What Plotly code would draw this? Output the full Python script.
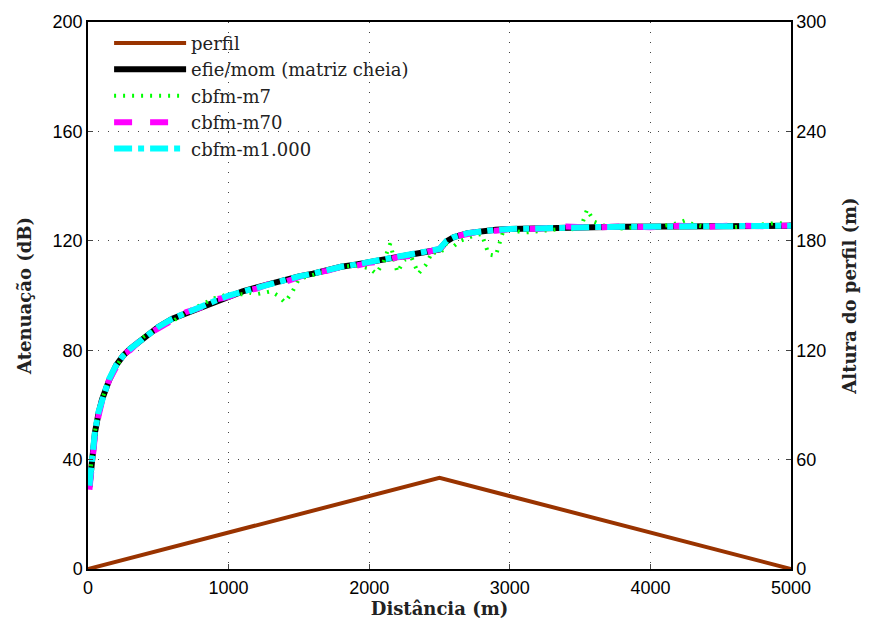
import plotly.graph_objects as go

# ---- data ----
dist = [10, 25, 50, 75, 100, 150, 200, 250, 300, 400, 500, 600, 700, 800, 900, 1000,
        1100, 1200, 1300, 1400, 1500, 1600, 1700, 1800, 1900, 2000, 2100, 2200, 2300,
        2400, 2450, 2500, 2550, 2600, 2700, 2800, 2900, 3000, 3200, 3400, 3600, 3800,
        4000, 4200, 4400, 4600, 4800, 5000]
efie = [30, 40, 50, 57, 62, 69, 74.5, 78, 80.5, 84.5, 88.5, 91.5, 93.5, 96, 98, 100,
        101.5, 103, 104.5, 105.5, 107, 108, 109.3, 110.5, 111.3, 112.3, 113, 113.8, 114.8,
        115.8, 116.3, 116.8, 119.8, 121.3, 122.8, 123.6, 124, 124.3, 124.7, 124.9, 125, 125.1,
        125.2, 125.3, 125.3, 125.4, 125.5, 125.5]
m70 = [29, 38, 49, 56, 61.5, 69, 74, 78.5, 80, 85, 88, 91, 94, 95.5, 98.5, 99.5,
       101.5, 102.5, 104.5, 105, 106.5, 108.5, 109, 110.5, 110.8, 112, 112.5, 114, 114.5,
       115.5, 116.5, 117, 119.5, 121.5, 122.5, 123.8, 123.7, 124.3, 124.4, 125.2, 124.8, 125.3,
       125, 125.5, 125.1, 125.6, 125.3, 125.6]
m1000 = [30.5, 40.5, 50.5, 57.5, 62, 69.5, 74.5, 78, 80.5, 84.5, 88.5, 91.5, 93.8, 96, 98, 100,
         101.5, 103, 104.3, 105.5, 107, 108, 109.5, 110.5, 111.3, 112.3, 113, 113.8, 114.8,
         115.8, 116.3, 117, 120, 121.3, 122.8, 123.6, 124, 124.3, 124.7, 124.9, 125, 125.1,
         125.2, 125.3, 125.3, 125.4, 125.5, 125.5]

dist_m7 = [10, 25, 50, 75, 100, 150, 200, 250, 300, 400, 500, 600, 700, 800, 900, 1000,
           1100, 1150, 1200, 1250, 1300, 1350, 1400, 1450, 1500, 1600, 1700, 1800, 1900,
           2000, 2050, 2100, 2150, 2200, 2250, 2300, 2350, 2400, 2450, 2500, 2550, 2600,
           2650, 2700, 2750, 2800, 2850, 2900, 2950, 3000, 3100, 3200, 3300, 3400, 3500,
           3550, 3600, 3700, 3800, 3900, 4000, 4100, 4200, 4250, 4300, 4400, 4500, 4600,
           4700, 4800, 4900, 5000]
m7 = [31, 40, 50.5, 57.5, 62, 69.5, 74, 78, 80, 85, 88, 90.5, 94, 96.5, 99, 100.5,
      100.5, 101, 100.5, 101, 101.5, 100, 97.5, 101, 106, 107.5, 109, 110.5, 111,
      110, 108, 112, 119, 108.5, 113, 114, 108, 111, 116, 115, 119, 118,
      120, 121, 122, 122.5, 115, 114.5, 123, 124, 123, 123.5, 124, 124.5, 124,
      131.5, 127, 125, 124.5, 125, 125, 125.5, 126.5, 127.5, 126, 125, 125.5, 125,
      125.5, 126, 126.5, 126]

perfil_x = [0, 2500, 5000]
perfil_h = [0, 50, 0]

x_ticks = [0, 1000, 2000, 3000, 4000, 5000]
y_ticks = [0, 40, 80, 120, 160, 200]
y2_ticks = [0, 60, 120, 180, 240, 300]

serif = "DejaVu Serif"
sans = "Liberation Sans"

fig = go.Figure()
fig.add_trace(go.Scatter(x=perfil_x, y=perfil_h, yaxis="y2", mode="lines", name="perfil",
                         line=dict(color="#993300", width=4)))
fig.add_trace(go.Scatter(x=dist, y=efie, mode="lines", name="efie/mom (matriz cheia)",
                         line=dict(color="black", width=6)))
fig.add_trace(go.Scatter(x=dist_m7, y=m7, mode="lines", name="cbfm-m7",
                         line=dict(color="#00ff00", width=4, dash="2px,7px")))
fig.add_trace(go.Scatter(x=dist, y=m70, mode="lines", name="cbfm-m70",
                         line=dict(color="#ff00ff", width=6, dash="dash")))
fig.add_trace(go.Scatter(x=dist, y=m1000, mode="lines", name="cbfm-m1.000",
                         line=dict(color="#00ffff", width=6, dash="dashdot")))

grid_dash = "1px,9px"

fig.update_layout(
    width=869, height=628,
    margin=dict(l=88, r=77, t=15, b=57),
    paper_bgcolor="white", plot_bgcolor="white",
    showlegend=True,
    legend=dict(x=0.03, y=0.995, xanchor="left", yanchor="top",
                font=dict(family=serif, size=18, color="#222"),
                bgcolor="rgba(255,255,255,0)", itemwidth=72, tracegroupgap=0),
    xaxis=dict(range=[0, 5000], tickvals=x_ticks, ticks="inside", ticklen=5,
               showline=True, linecolor="black", linewidth=1.5, mirror=True,
               showgrid=True, gridcolor="#444", griddash=grid_dash, gridwidth=1,
               zeroline=False, tickfont=dict(family=sans, size=18, color="black"),
               ticklabelstandoff=2,
               title=dict(text="<b>Distância (m)</b>", font=dict(family=serif, size=18, color="#222"),
                          standoff=5)),
    yaxis=dict(range=[0, 200], tickvals=y_ticks, ticks="inside", ticklen=5,
               showline=True, linecolor="black", linewidth=1.5,
               showgrid=True, gridcolor="#444", griddash=grid_dash, gridwidth=1,
               zeroline=False, tickfont=dict(family=sans, size=18, color="black"),
               title=dict(text="<b>Atenuação (dB)</b>", font=dict(family=serif, size=18, color="#222"),
                          standoff=16)),
    yaxis2=dict(range=[0, 300], tickvals=y2_ticks, ticks="inside", ticklen=5,
                overlaying="y", side="right", anchor="x",
                showline=True, linecolor="black", linewidth=1.5,
                showgrid=False, zeroline=False,
                tickfont=dict(family=sans, size=18, color="black"),
                title=dict(text="<b>Altura do perfil (m)</b>", font=dict(family=serif, size=18, color="#222"),
                           standoff=18)),
)

fig.write_html("out.html")
